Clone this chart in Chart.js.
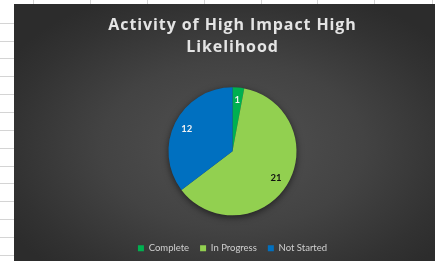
<!DOCTYPE html>
<html>
<head>
<meta charset="utf-8">
<script src="https://cdn.jsdelivr.net/npm/chart.js@4"></script>
<style>
  html, body { margin: 0; padding: 0; width: 435px; height: 261px; overflow: hidden; background: #fff; }
  #sheet { position: absolute; left: 0; top: 0; width: 435px; height: 261px; background: #fff; }
  #frame {
    position: absolute; left: 14px; top: 4px; width: 437px; height: 257px;
    background: radial-gradient(ellipse 60% 65% at 50% 55%, #525252 0%, #434343 50%, #323232 85%, #2c2c2c 100%);
  }
  canvas { display: block; }
</style>
</head>
<body>
<div id="sheet"></div>
<div id="frame"><canvas id="pieChart" width="437" height="257"></canvas></div>
<script>
// sheet grid lines (decor)
const sheet = document.getElementById('sheet');
[22.7, 40.7, 58.3, 76, 94, 111.7, 130, 147.7, 165.7, 183.3, 201, 218.7, 236.7, 254.5].forEach(y => {
  const d = document.createElement('div');
  d.style.cssText = `position:absolute;left:0;top:${Math.round(y)}px;width:14px;height:1px;background:#d4d4d4`;
  sheet.appendChild(d);
});
[33, 90, 147, 204, 261, 317, 374, 432].forEach(x => {
  const d = document.createElement('div');
  d.style.cssText = `position:absolute;left:${x}px;top:0;width:1px;height:4px;background:#d4d4d4`;
  sheet.appendChild(d);
});

const titleLines = ['Activity of High Impact High', 'Likelihood'];
const categories = ['Complete', 'In Progress', 'Not Started'];
const counts = [1, 21, 12];
const sliceColors = ['#00B050', '#92D050', '#0070C0'];
const labelColors = ['#f2f2f2', '#111111', '#f2f2f2'];

// widen the title a little, Excel's title is loosely tracked
const TitleEl = Chart.Title && Chart.Title._element;
if (TitleEl) {
  const origDraw = TitleEl.prototype.draw;
  TitleEl.prototype.draw = function () {
    this.ctx.letterSpacing = '0.9px';
    origDraw.call(this);
    this.ctx.letterSpacing = '0px';
  };
}

// soft shadow under the pie
const pieShadow = {
  id: 'pieShadow',
  beforeDatasetsDraw(chart) {
    const arc = chart.getDatasetMeta(0).data[0];
    if (!arc) return;
    const {x, y, outerRadius} = arc.getProps(['x', 'y', 'outerRadius'], true);
    const ctx = chart.ctx;
    ctx.save();
    ctx.shadowColor = 'rgba(0,0,0,0.55)';
    ctx.shadowBlur = 7;
    ctx.shadowOffsetY = 2;
    ctx.beginPath();
    ctx.arc(x, y, outerRadius, 0, Math.PI * 2);
    ctx.fillStyle = '#3a3a3a';
    ctx.fill();
    ctx.restore();
  }
};

// value labels inside each slice
const sliceLabels = {
  id: 'sliceLabels',
  afterDatasetsDraw(chart) {
    const ctx = chart.ctx;
    const meta = chart.getDatasetMeta(0);
    ctx.save();
    ctx.font = 'bold 9.5px Lato, "DejaVu Sans", sans-serif';
    ctx.textAlign = 'center';
    ctx.textBaseline = 'middle';
    meta.data.forEach((arc, i) => {
      const p = arc.getProps(['x', 'y', 'startAngle', 'endAngle', 'outerRadius'], true);
      const mid = (p.startAngle + p.endAngle) / 2;
      const r = p.outerRadius * 0.8;
      ctx.fillStyle = labelColors[i];
      ctx.fillText(String(counts[i]), p.x + Math.cos(mid) * r, p.y + Math.sin(mid) * r);
    });
    ctx.restore();
  }
};

new Chart(document.getElementById('pieChart'), {
  type: 'pie',
  data: {
    labels: categories,
    datasets: [{
      data: counts,
      backgroundColor: sliceColors,
      borderWidth: 0,
      radius: 64
    }]
  },
  options: {
    responsive: false,
    animation: false,
    layout: { padding: { left: 0, right: 0, top: 0, bottom: -2 } },
    plugins: {
      title: {
        display: true,
        text: titleLines,
        color: '#e4e4e4',
        font: { family: '"Open Sans", Lato, sans-serif', size: 16, weight: 'bold', lineHeight: 1.38 },
        padding: { top: 10, bottom: 12 }
      },
      legend: {
        position: 'bottom',
        labels: {
          color: '#d0d0d0',
          font: { family: 'Lato, "Open Sans", sans-serif', size: 9.5 },
          boxWidth: 6,
          boxHeight: 6,
          padding: 11
        }
      },
      tooltip: { enabled: false }
    }
  },
  plugins: [pieShadow, sliceLabels]
});
</script>
</body>
</html>
